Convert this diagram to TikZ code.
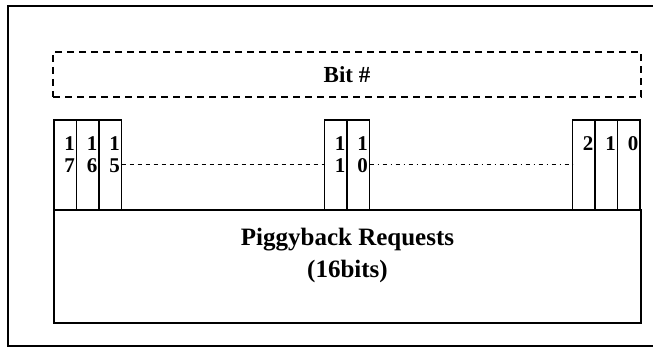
\documentclass[tikz,border=0pt]{standalone}
\usepackage{fontspec}
\setmainfont{Liberation Serif}
\usetikzlibrary{positioning}
\tikzset{
  bitcell/.style={draw,line width=1.4pt,minimum width=22.5pt,minimum height=90pt,inner sep=0pt,outer sep=0pt},
  bitnum/.style={font=\fontsize{21}{22}\selectfont\bfseries,align=right,inner sep=0pt,anchor=north east},
  fieldbox/.style={draw,line width=1.4pt,minimum width=587pt,minimum height=113pt,inner sep=0pt,outer sep=0pt},
  headbox/.style={draw,dashed,dash pattern=on 7pt off 5pt,line width=1.4pt,minimum width=588pt,minimum height=45pt,inner sep=0pt,
    font=\fontsize{23}{26}\selectfont\bfseries},
  gapline/.style={dash pattern=on 4pt off 4pt,line width=1pt},
  gapdot/.style={dash pattern=on 4pt off 4pt on 1pt off 4pt,line width=1pt}
}
\begin{document}
\begin{tikzpicture}[x=1pt,y=-1pt]
\useasboundingbox (0,0) rectangle (653,347);
% outer frame (right side off the page)
\draw[line width=1.6pt] (660,6) -| (8,346) -- (660,346);
% header
\node[headbox] (bits) at (347,74.5) {Bit \#};
% field
\node[fieldbox] (req) at (347.5,266.5) {};
\node[font=\fontsize{25}{32}\selectfont\bfseries,align=center,below=15pt of req.north] (reqtxt) {Piggyback Requests\\(16bits)};
% bit cells
\node[bitcell,anchor=south west] (c17) at (req.north west) {};
\node[bitcell,right=0pt of c17] (c16) {};
\node[bitcell,right=0pt of c16] (c15) {};
\node[bitcell,right=203pt of c15] (c11) {};
\node[bitcell,right=0pt of c11] (c10) {};
\node[bitcell,right=203pt of c10] (c2) {};
\node[bitcell,right=0pt of c2] (c1) {};
\node[bitcell,right=0pt of c1] (c0) {};
% bit numbers
\foreach \c/\t in {c17/{1\\7},c16/{1\\6},c15/{1\\5},c11/{1\\1},c10/{1\\0},c2/2,c1/1,c0/0}{
  \node[bitnum] (n\c) at ([xshift=-1.5pt,yshift=-16pt]\c.north east) {\t};
}
% skipped bits
\draw[gapline] (c15.east) -- (c11.west);
\draw[gapdot] (c10.east) -- (c2.west);
\end{tikzpicture}
\end{document}
